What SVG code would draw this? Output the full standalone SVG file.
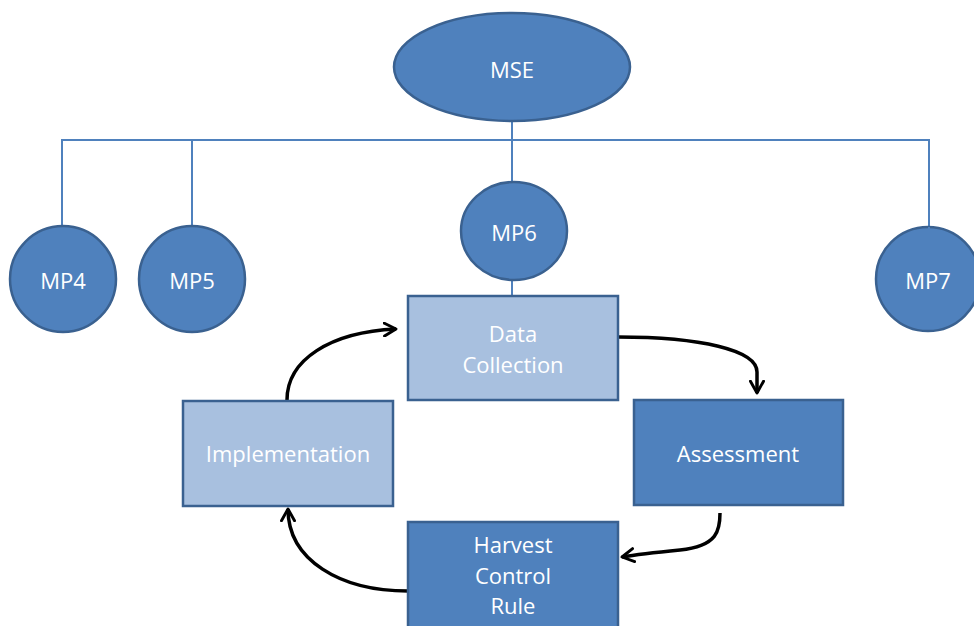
<svg xmlns="http://www.w3.org/2000/svg" width="974" height="626" viewBox="0 0 974 626">
<defs>
<style>
.dark{fill:#4F81BD;stroke:#3A6190;stroke-width:2.5}
.light{fill:#A8C0DF;stroke:#3A6190;stroke-width:2.5}
.t{font-family:"Open Sans","Liberation Sans",sans-serif;font-size:22px;fill:#FFFFFF;text-anchor:middle;dominant-baseline:central}
.ln{stroke:#4F81BD;stroke-width:2;fill:none}
.arr{stroke:#000;stroke-width:3.5;fill:none;marker-end:url(#ah)}
</style>
<marker id="ah" viewBox="0 0 12 12" refX="10" refY="6" markerWidth="4.5" markerHeight="4.5" orient="auto" markerUnits="strokeWidth">
<path d="M1,1 L10,6 L1,11" fill="none" stroke="#000" stroke-width="2.2" stroke-linecap="round" stroke-linejoin="round"/>
</marker>
</defs>
<rect width="974" height="626" fill="#FFFFFF"/>
<g id="connectors">
<path class="ln" d="M512,122 V183"/>
<path class="ln" d="M62,227 V140 H929 V277"/>
<path class="ln" d="M192,227 V140"/>
<path class="ln" d="M512,280 V296"/>
<path class="arr" d="M618,337 C700,337 757,350 757,372 L757,393"/>
<path class="arr" d="M720,513 C720,530 718,546 680,550 C660,552 640,554 622,557"/>
<path class="arr" d="M408,591 C340,591 288,560 288,509"/>
<path class="arr" d="M287,400 C287,360 330,332 396,329"/>
</g>
<g id="MSE"><ellipse class="dark" cx="512" cy="67" rx="118" ry="54"/><text class="t" x="512" y="69">MSE</text></g>
<g id="MP4"><circle class="dark" cx="63" cy="279" r="53"/><text class="t" x="63" y="280">MP4</text></g>
<g id="MP5"><circle class="dark" cx="192" cy="279" r="53"/><text class="t" x="192" y="280">MP5</text></g>
<g id="MP6"><ellipse class="dark" cx="514" cy="231" rx="53" ry="49"/><text class="t" x="514" y="232">MP6</text></g>
<g id="MP7"><circle class="dark" cx="928" cy="279" r="52"/><path class="ln" d="M929,227 V277"/><text class="t" x="928" y="280">MP7</text></g>
<g id="DataCollection"><rect class="light" x="408" y="296" width="210" height="104"/><text class="t" x="513" y="333">Data</text><text class="t" x="513" y="364">Collection</text></g>
<g id="Assessment"><rect class="dark" x="634" y="400" width="209" height="105"/><text class="t" x="738" y="453">Assessment</text></g>
<g id="Implementation"><rect class="light" x="183" y="401" width="210" height="105"/><text class="t" x="288" y="453">Implementation</text></g>
<g id="HCR"><rect class="dark" x="408" y="522" width="210" height="106"/><text class="t" x="513" y="544">Harvest</text><text class="t" x="513" y="575">Control</text><text class="t" x="513" y="605">Rule</text></g>
</svg>
